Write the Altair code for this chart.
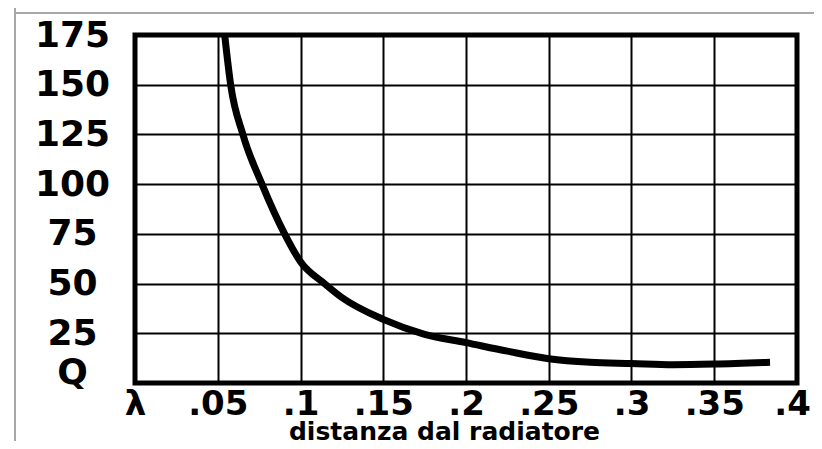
import altair as alt
import pandas as pd

# Curve: distance (in wavelengths) vs Q
dist = [0.0542, 0.0578, 0.0652, 0.0767, 0.0904, 0.1, 0.1145, 0.125, 0.15, 0.175,
        0.2, 0.225, 0.25, 0.275, 0.3, 0.325, 0.35, 0.3837]
q_val = [175, 150, 125, 100, 75, 61, 50, 43, 32, 24.5,
         20.3, 16, 12.2, 10.4, 9.8, 9.2, 9.5, 10.4]

x_ticks = [0, 0.05, 0.1, 0.15, 0.2, 0.25, 0.3, 0.35, 0.4]
y_ticks = [0, 25, 50, 75, 100, 125, 150, 175]
x_title = "distanza dal radiatore"

df = pd.DataFrame({"d": dist, "q": q_val})

FONT = "DejaVu Sans"
W, H = 662, 348

x_axis = alt.Axis(
    values=x_ticks, grid=True, gridColor="black", gridWidth=2, gridOpacity=1,
    domain=False, ticks=False, tickSize=0,
    labelExpr="datum.value == 0 ? 'λ' : replace(format(datum.value, '.2~f'), '0.', '.')",
    labelFont=FONT, labelFontSize=34, labelFontWeight="bold", labelColor="black",
    labelPadding=4, labelAlign="center", labelBaseline="top", labelFlush=False,
    labelOverlap=False,
    labelOffset={"condition": {"test": "datum.value >= 0.39", "value": -5}, "value": 0},
    title=x_title, titleFont=FONT, titleFontSize=25, titleFontWeight="bold",
    titleColor="black", titleX=309, titleY=56, titleAlign="center",
    titleBaseline="alphabetic", titleAnchor="start",
)
y_axis = alt.Axis(
    values=y_ticks, grid=True, gridColor="black", gridWidth=2, gridOpacity=1,
    domain=False, ticks=False, tickSize=0,
    labelExpr="datum.value == 0 ? 'Q' : format(datum.value, 'd')",
    labelFont=FONT, labelFontSize=36, labelFontWeight="bold", labelColor="black",
    labelPadding=63, labelAlign="center",
    labelBaseline={"condition": {"test": "datum.value == 0", "value": "alphabetic"}, "value": "middle"},
    labelFlush=False, labelOverlap=False, title=None,
)

line = alt.Chart(df).mark_line(
    color="black", strokeWidth=7, interpolate="monotone", clip=True, strokeCap="butt"
).encode(
    x=alt.X("d:Q", scale=alt.Scale(domain=[0, 0.4], nice=False, zero=False), axis=x_axis),
    y=alt.Y("q:Q", scale=alt.Scale(domain=[0, 175], nice=False), axis=y_axis),
)

# decorative gray page border lines seen in the reference
top_rule = alt.Chart(df).mark_rule(color="#a8a8a8", strokeWidth=2, clip=False).encode(
    x=alt.value(-120), x2=alt.value(680), y=alt.value(-22)
)
left_rule = alt.Chart(df).mark_rule(color="#a8a8a8", strokeWidth=2, clip=False).encode(
    x=alt.value(-120), y=alt.value(-27), y2=alt.value(420)
)

chart = alt.layer(top_rule, left_rule, line).properties(
    width=W, height=H,
    autosize=alt.AutoSizeParams(type="none"),
    padding={"left": 127, "top": 27, "right": 17, "bottom": 58},
    background="white",
).configure_view(stroke="black", strokeWidth=5)

chart.save("out.html", embed_options={"renderer": "svg", "actions": False})
